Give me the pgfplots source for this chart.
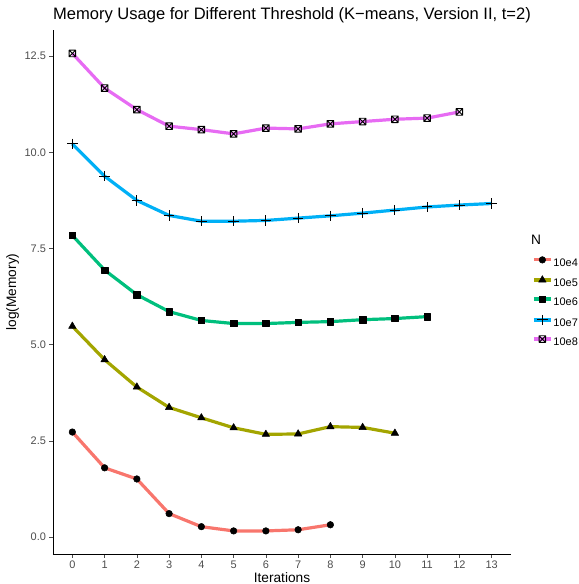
\documentclass[border=0pt]{standalone}
\usepackage{pgfplots}
\pgfplotsset{compat=1.18}
\usepackage{fontspec}
\setmainfont{Liberation Sans}
\definecolor{c1}{HTML}{F8766D}
\definecolor{c2}{HTML}{A3A500}
\definecolor{c3}{HTML}{00BF7D}
\definecolor{c4}{HTML}{00B0F6}
\definecolor{c5}{HTML}{E76BF3}
\definecolor{tickgrey}{HTML}{4D4D4D}
\pgfdeclareplotmark{boxx}{%
  \pgfpathrectangle{\pgfpoint{-\pgfplotmarksize}{-\pgfplotmarksize}}{\pgfpoint{2\pgfplotmarksize}{2\pgfplotmarksize}}%
  \pgfpathmoveto{\pgfpoint{-\pgfplotmarksize}{-\pgfplotmarksize}}\pgfpathlineto{\pgfpoint{\pgfplotmarksize}{\pgfplotmarksize}}%
  \pgfpathmoveto{\pgfpoint{-\pgfplotmarksize}{\pgfplotmarksize}}\pgfpathlineto{\pgfpoint{\pgfplotmarksize}{-\pgfplotmarksize}}%
  \pgfusepathqstroke}
\begin{document}
\begin{tikzpicture}
\begin{axis}[name=ax,
  scale only axis, width=458bp, height=524bp,
  xmin=-0.6, xmax=13.6, ymin=-0.44, ymax=13.18,
  axis x line=bottom, axis y line=left,
  axis line style={-, black, line width=0.7bp},
  xtick={0,1,...,13}, ytick={0,2.5,5,7.5,10,12.5},
  yticklabel style={/pgf/number format/fixed, /pgf/number format/fixed zerofill, /pgf/number format/precision=1},
  /pgf/number format/assume math mode=true,
  tick align=outside, major tick length=3.5bp,
  tick style={tickgrey, line width=0.7bp},
  ticklabel style={font=\fontsize{11}{13}\selectfont, text=tickgrey},
  xlabel={Iterations},
  label style={font=\fontsize{13.75}{16}\selectfont},
  xlabel style={at={(axis description cs:0.5,0)}, anchor=base, yshift=-28.3bp, inner sep=0pt},
  every axis plot/.append style={line width=3.2bp, line join=round},
  legend style={draw=none, at={(1.046,0.568)}, anchor=north west, font=\fontsize{11}{13}\selectfont, row sep=7.3bp, column sep=1bp, inner sep=0pt, nodes={inner sep=0pt, text height=8bp, text depth=2bp}},
  legend cell align=left,
  legend image code/.code={\draw[#1, mark repeat=2, mark phase=2] plot coordinates {(0bp,3.5bp)(8.5bp,3.5bp)(17bp,3.5bp)};},
]
\addplot[c1, mark=*, mark size=3.3bp, mark options={black, fill=black, line width=0.5bp}] coordinates {
(0,2.73)(1,1.80)(2,1.51)(3,0.61)(4,0.27)(5,0.16)(6,0.16)(7,0.19)(8,0.32)};
\addlegendentry{10e4}
\addplot[c2, mark=triangle*, mark size=4.3bp, mark options={black, fill=black, line width=0.5bp}] coordinates {
(0,5.48)(1,4.61)(2,3.90)(3,3.37)(4,3.10)(5,2.84)(6,2.67)(7,2.68)(8,2.87)(9,2.85)(10,2.70)};
\addlegendentry{10e5}
\addplot[c3, mark=square*, mark size=3.2bp, mark options={black, fill=black, line width=0.5bp}] coordinates {
(0,7.84)(1,6.94)(2,6.30)(3,5.86)(4,5.63)(5,5.55)(6,5.55)(7,5.58)(8,5.60)(9,5.65)(10,5.68)(11,5.73)};
\addlegendentry{10e6}
\addplot[c4, mark=+, mark size=5.2bp, mark options={black, line width=1bp}] coordinates {
(0,10.22)(1,9.38)(2,8.75)(3,8.36)(4,8.21)(5,8.21)(6,8.23)(7,8.29)(8,8.35)(9,8.42)(10,8.50)(11,8.58)(12,8.63)(13,8.67)};
\addlegendentry{10e7}
\addplot[c5, mark=boxx, mark size=3.3bp, mark options={black, line width=0.9bp}] coordinates {
(0,12.57)(1,11.67)(2,11.11)(3,10.68)(4,10.59)(5,10.48)(6,10.63)(7,10.61)(8,10.74)(9,10.80)(10,10.86)(11,10.89)(12,11.05)};
\addlegendentry{10e8}
\end{axis}
\node[anchor=base west, font=\fontsize{16.6}{19}\selectfont, inner sep=0pt] at ([yshift=10.7bp]ax.north west) {Memory Usage for Different Threshold (K\textminus means, Version II, t=2)};
\node[rotate=90, anchor=base, font=\fontsize{13.75}{16}\selectfont, inner sep=0pt] at ([xshift=-37bp]ax.west) {log(Memory)};
\node[anchor=west, font=\fontsize{13.75}{16}\selectfont, inner sep=0pt] at ([xshift=20bp, yshift=-210bp]ax.north east) {N};
\pgfresetboundingbox
\path[use as bounding box] ([xshift=-53bp, yshift=-30bp]ax.south west) rectangle ([xshift=68bp, yshift=30bp]ax.north east);
\end{tikzpicture}
\end{document}
